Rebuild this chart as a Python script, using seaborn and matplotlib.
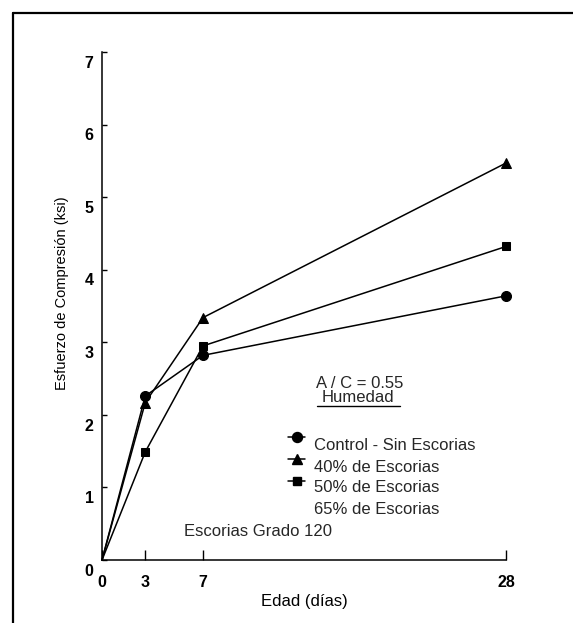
import matplotlib
matplotlib.use('Agg')
import matplotlib.pyplot as plt
import matplotlib.transforms as mtransforms
from matplotlib.lines import Line2D
import seaborn as sns
import pandas as pd

# datos
edad = [0, 3, 7, 28]
control = [0, 2.26, 2.82, 3.64]
escorias_40 = [0, 2.17, 3.34, 5.47]
escorias_50 = [0, 1.49, 2.95, 4.32]
series = ['Control - Sin Escorias', '40% de Escorias', '50% de Escorias']
leyenda = series + ['65% de Escorias']
valores = [control, escorias_40, escorias_50]
marcadores = ['o', '^', 's']
tam_marcador = [7.2, 6.5, 5.8]
y_ticks = list(range(8))

df = pd.DataFrame({
    'edad': edad * len(series),
    'esfuerzo': [v for vals in valores for v in vals],
    'serie': [s for s in series for _ in edad],
})

sns.set_theme(style='white')
plt.rcParams['font.family'] = ['Liberation Sans', 'DejaVu Sans']

W, H = 573, 623
fig = plt.figure(figsize=(W / 100, H / 100), dpi=100)
ax = fig.add_axes([102 / W, 1 - 560 / H, 404 / W, 508 / H])

# sin marcador en el origen
for s, m, ms in zip(series, marcadores, tam_marcador):
    sns.lineplot(data=df[df['serie'] == s], x='edad', y='esfuerzo', ax=ax,
                 color='black', lw=1.1, marker=m, markersize=ms,
                 markevery=[1, 2, 3], markeredgecolor='black',
                 clip_on=False, legend=False)

ax.set_xlim(0, 28)
ax.set_ylim(0, 7)
ax.set_xticks(edad)
ax.set_yticks(y_ticks)
for side in ['top', 'right']:
    ax.spines[side].set_visible(False)
for side in ['left', 'bottom']:
    ax.spines[side].set_color('black')
    ax.spines[side].set_linewidth(1.1)

ax.tick_params(axis='x', direction='in', length=7, width=1, pad=11,
               labelsize=11.5, colors='black', bottom=True)
ax.tick_params(axis='y', direction='in', length=3.6, width=1, pad=6,
               labelsize=11.5, colors='black', left=True)
for lbl in ax.get_xticklabels() + ax.get_yticklabels():
    lbl.set_fontweight('bold')
offset = mtransforms.ScaledTranslation(0, -7 / 72, fig.dpi_scale_trans)
for lbl in ax.get_yticklabels():
    lbl.set_transform(lbl.get_transform() + offset)

ax.set_xlabel('Edad (días)', fontsize=12, color='black')
ax.xaxis.set_label_coords(0.5, -0.067)
ax.set_ylabel('Esfuerzo de Compresión (ksi)', fontsize=10.5, color='black')
ax.yaxis.set_label_coords(-0.082, 0.526)


def fx(px):
    return px / W


def fy(py):
    return 1 - py / H


# textos
fig.text(fx(359.5), fy(383), 'A / C = 0.55', fontsize=12, ha='center', va='center')
fig.text(fx(358), fy(398), 'Humedad', fontsize=12, ha='center', va='center')
fig.add_artist(Line2D([fx(317), fx(400)], [fy(406), fy(406)], color='black', lw=1))

# leyenda
y_marc = [437, 459, 481]
for m, ms, ym in zip(marcadores, tam_marcador, y_marc):
    fig.add_artist(Line2D([fx(288), fx(305)], [fy(ym), fy(ym)], color='black', lw=1.1))
    fig.add_artist(Line2D([fx(297)], [fy(ym)], marker=m, markersize=ms,
                          color='black', lw=0))
y_txt = [446, 467, 488, 510]
for t, yt in zip(leyenda, y_txt):
    fig.text(fx(314), fy(yt), t, fontsize=12, ha='left', va='center')

fig.text(fx(258), fy(532), 'Escorias Grado 120', fontsize=12, ha='center', va='center')

# marco de la figura (solo izquierda y arriba)
fig.add_artist(Line2D([fx(13), fx(13)], [0, fy(13)], color='black', lw=1.6))
fig.add_artist(Line2D([fx(13), 1], [fy(13), fy(13)], color='black', lw=1.6))

fig.savefig('out.png', dpi=100)
